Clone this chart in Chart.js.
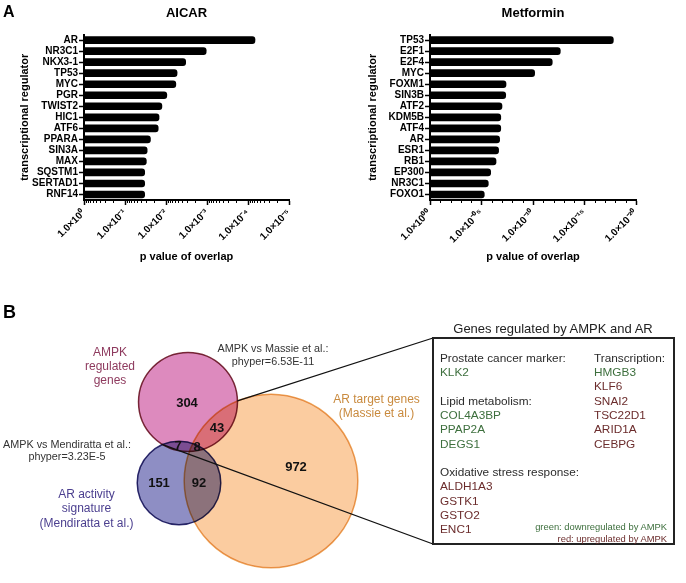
<!DOCTYPE html>
<html>
<head>
<meta charset="utf-8">
<script src="https://cdn.jsdelivr.net/npm/chart.js@4.4.1/dist/chart.umd.min.js"></script>
<style>
  html, body { margin: 0; padding: 0; background: #fff; }
  body {
    position: relative; width: 686px; height: 583px; overflow: hidden;
    font-family: "Liberation Sans", Arial, Helvetica, sans-serif; color: #2b2b2b;
  }
  canvas { position: absolute; display: block; }
  .panel { position: absolute; font-weight: bold; line-height: 1; color: #000; }
  .lbl { position: absolute; white-space: nowrap; text-align: center; transform: translateX(-50%); }
  #genesTitle { position: absolute; left: 553px; top: 321px; font-size: 13px; line-height: 16px;
                transform: translateX(-50%); white-space: nowrap; color: #222; }
  #genesBox { position: absolute; box-sizing: border-box; border: 2px solid #232323; background: #fff; }
  .col { position: absolute; top: 11.8px; font-size: 11.8px; line-height: 14.3px; white-space: nowrap; }
  .dn { color: #3d6f3d; }
  .up { color: #6b2c2c; }
  .key { position: absolute; right: 6px; top: 182px; font-size: 9.4px; line-height: 11.5px; text-align: right; white-space: nowrap; }
</style>
</head>
<body>

<canvas id="aicarChart" width="343" height="280" style="left:0;top:0"></canvas>
<canvas id="metforminChart" width="343" height="280" style="left:343px;top:0"></canvas>
<canvas id="vennChart" width="686" height="293" style="left:0;top:290px"></canvas>

<div class="panel" style="left:3px;top:4px;font-size:16px">A</div>
<div class="panel" style="left:3px;top:303px;font-size:18px">B</div>

<div class="lbl" style="left:110px;top:345px;font-size:12px;line-height:14px;color:#8e3a5e">AMPK<br>regulated<br>genes</div>
<div class="lbl" style="left:273px;top:342px;font-size:10.8px;line-height:13.4px;color:#333">AMPK vs Massie et al.:<br>phyper=6.53E-11</div>
<div class="lbl" style="left:67px;top:437.5px;font-size:10.8px;line-height:12.5px;color:#333">AMPK vs Mendiratta et al.:<br>phyper=3.23E-5</div>
<div class="lbl" style="left:86.5px;top:486.8px;font-size:12px;line-height:14.4px;color:#4b3f8f">AR activity<br>signature<br>(Mendiratta et al.)</div>
<div class="lbl" style="left:376.5px;top:392px;font-size:12px;line-height:14px;color:#c98a3e">AR target genes<br>(Massie et al.)</div>

<div id="genesTitle">Genes regulated by AMPK and AR</div>
<div id="genesBox">
  <div class="col" style="left:6px">
    <div>Prostate cancer marker:</div>
    <div class="dn">KLK2</div>
    <div>&nbsp;</div>
    <div>Lipid metabolism:</div>
    <div class="dn">COL4A3BP</div>
    <div class="dn">PPAP2A</div>
    <div class="dn">DEGS1</div>
    <div>&nbsp;</div>
    <div>Oxidative stress response:</div>
    <div class="up">ALDH1A3</div>
    <div class="up">GSTK1</div>
    <div class="up">GSTO2</div>
    <div class="up">ENC1</div>
  </div>
  <div class="col" style="left:160px">
    <div>Transcription:</div>
    <div class="dn">HMGB3</div>
    <div class="up">KLF6</div>
    <div class="up">SNAI2</div>
    <div class="up">TSC22D1</div>
    <div class="up">ARID1A</div>
    <div class="up">CEBPG</div>
  </div>
  <div class="key">
    <div class="dn">green: downregulated by AMPK</div>
    <div class="up">red: upregulated by AMPK</div>
  </div>
</div>

<script>
'use strict';
/* global Chart */

// ── Data: enrichment of regulator targets (-log10 of p value of overlap) ──
const aicarRegulators = ['AR', 'NR3C1', 'NKX3-1', 'TP53', 'MYC', 'PGR', 'TWIST2', 'HIC1',
                         'ATF6', 'PPARA', 'SIN3A', 'MAX', 'SQSTM1', 'SERTAD1', 'RNF14'];
const aicarNegLog10P = [4.17, 2.98, 2.48, 2.27, 2.24, 2.02, 1.90, 1.83,
                        1.81, 1.62, 1.54, 1.52, 1.48, 1.48, 1.48];
const aicarTickLabels = ['1.0×10⁰', '1.0×10⁻¹', '1.0×10⁻²', '1.0×10⁻³', '1.0×10⁻⁴', '1.0×10⁻⁵'];

const metforminRegulators = ['TP53', 'E2F1', 'E2F4', 'MYC', 'FOXM1', 'SIN3B', 'ATF2', 'KDM5B',
                             'ATF4', 'AR', 'ESR1', 'RB1', 'EP300', 'NR3C1', 'FOXO1'];
const metforminNegLog10P = [17.8, 12.65, 11.87, 10.16, 7.38, 7.35, 6.99, 6.87,
                            6.87, 6.76, 6.66, 6.41, 5.89, 5.66, 5.27];
const metforminTickLabels = ['1.0×10⁰⁰', '1.0×10⁻⁰⁵', '1.0×10⁻¹⁰', '1.0×10⁻¹⁵', '1.0×10⁻²⁰'];

// ── Data: Venn diagram ──
const vennSets = ['AMPK regulated genes', 'AR target genes (Massie et al.)',
                  'AR activity signature (Mendiratta et al.)'];
const vennCounts = [304, 43, 7, 8, 151, 92, 972];
// which sets each count belongs to (index into vennSets)
const vennMembership = [[0], [0, 1], [0, 2], [0, 1, 2], [2], [1, 2], [1]];

// ── Layout (page pixels) ──
const vennCentres = [{ x: 188, y: 402 }, { x: 271, y: 481 }, { x: 179, y: 483 }];
const vennCountPos = [[187, 403], [217, 428], [178, 446], [197, 447], [159, 483], [199, 483], [296, 467]];
const RADIUS_PER_SQRT = 2.6;   // circle area ~ set size
const BOX = { left: 432, top: 337, width: 243, height: 208 };

const FONT = '"Liberation Sans", Arial, Helvetica, sans-serif';
Chart.defaults.font.family = FONT;
Chart.defaults.color = '#000';

// ── Minor ticks on the p value axis ──
const minorTicks = {
  id: 'minorTicks',
  afterDraw(chart, args, opts) {
    const xs = chart.scales.x;
    const ctx = chart.ctx;
    ctx.save();
    ctx.strokeStyle = '#000';
    ctx.lineWidth = 1;
    ctx.beginPath();
    opts.values.forEach(v => {
      const px = Math.round(xs.getPixelForValue(v)) + 0.5;
      ctx.moveTo(px, xs.top);
      ctx.lineTo(px, xs.top + 3);
    });
    ctx.stroke();
    ctx.restore();
  }
};

function logMinors(decades) {
  const out = [];
  for (let k = 0; k < decades; k++) {
    for (let m = 2; m <= 9; m++) out.push(k + 1 - Math.log10(m));
  }
  return out;
}

function barChart(id, cfg) {
  return new Chart(document.getElementById(id), {
    type: 'bar',
    data: {
      labels: cfg.labels,
      datasets: [{
        data: cfg.values,
        backgroundColor: '#000',
        barThickness: 7,
        borderRadius: 3,
      }]
    },
    options: {
      indexAxis: 'y',
      responsive: false,
      animation: false,
      events: [],
      layout: { padding: { top: 6, right: cfg.padRight, left: 0, bottom: 0 } },
      scales: {
        x: {
          type: 'linear', min: 0, max: cfg.max,
          ticks: {
            stepSize: cfg.step, autoSkip: false, maxRotation: 45, minRotation: 45, padding: 2,
            color: '#000', font: { size: 10, weight: 'bold' },
            callback: v => cfg.tickLabels[Math.round(v / cfg.step)],
          },
          grid: { drawOnChartArea: false, tickLength: 5, tickColor: '#000', tickWidth: 1.5 },
          border: { color: '#000', width: 2 },
          title: {
            display: true, text: 'p value of overlap', color: '#000',
            font: { size: 11, weight: 'bold' }, padding: { top: 0, bottom: 16 },
          },
          afterFit: s => { s.height = 80; s.paddingLeft = 0; s.paddingRight = 0; },
        },
        y: {
          ticks: { autoSkip: false, padding: 1, color: '#000', font: { size: 10, weight: 'bold' } },
          grid: { drawOnChartArea: false, offset: false, tickLength: 5, tickColor: '#000', tickWidth: 1.5 },
          border: { color: '#000', width: 2 },
          title: {
            display: true, text: 'transcriptional regulator', color: '#000',
            font: { size: 11, weight: 'bold' }, padding: { top: cfg.yTitleGap, bottom: 0 },
          },
          afterFit: s => { s.width = cfg.yWidth; s.paddingTop = 0; s.paddingBottom = 0; },
        }
      },
      plugins: {
        legend: { display: false },
        tooltip: { enabled: false },
        title: {
          display: true, text: cfg.title, fullSize: false, color: '#000',
          font: { size: 13, weight: 'bold' }, padding: { top: 0, bottom: 13 },
        },
        minorTicks: { values: cfg.minors },
      }
    },
    plugins: [minorTicks]
  });
}

barChart('aicarChart', {
  title: 'AICAR', labels: aicarRegulators, values: aicarNegLog10P,
  max: 5, step: 1, tickLabels: aicarTickLabels, minors: logMinors(5),
  yWidth: 84, padRight: 54, yTitleGap: 18.4,
});

barChart('metforminChart', {
  title: 'Metformin', labels: metforminRegulators, values: metforminNegLog10P,
  max: 20, step: 5, tickLabels: metforminTickLabels,
  minors: Array.from({ length: 20 }, (_, i) => i).filter(i => i % 5 !== 0),
  yWidth: 87, padRight: 50, yTitleGap: 23.4,
});

// ── Venn diagram ──
const setTotals = vennSets.map((_, s) =>
  vennCounts.reduce((sum, n, i) => sum + (vennMembership[i].includes(s) ? n : 0), 0));

function crossings(a, b) {
  const dx = b.x - a.x, dy = b.y - a.y, d = Math.hypot(dx, dy);
  const l = (a.r * a.r - b.r * b.r + d * d) / (2 * d);
  const h = Math.sqrt(Math.max(a.r * a.r - l * l, 0));
  const mx = a.x + l * dx / d, my = a.y + l * dy / d;
  return [{ x: mx + h * dy / d, y: my - h * dx / d }, { x: mx - h * dy / d, y: my + h * dx / d }];
}

const vennOverlay = {
  id: 'vennOverlay',
  beforeDatasetsDraw(chart) {
    chart.ctx.save();
    chart.ctx.globalCompositeOperation = 'multiply';
  },
  afterDatasetsDraw(chart) {
    const ctx = chart.ctx;
    ctx.restore();
    const xs = chart.scales.x, ys = chart.scales.y;
    const circ = chart.data.datasets.map((ds, i) => {
      const el = chart.getDatasetMeta(i).data[0];
      return { x: el.x, y: el.y, r: el.options.radius };
    });

    // connectors to the gene box
    const upper = crossings(circ[0], circ[1]).sort((p, q) => p.y - q.y)[0];
    const left = crossings(circ[0], circ[2]).sort((p, q) => p.x - q.x)[0];
    const bx = xs.getPixelForValue(BOX.left) + 1;
    ctx.save();
    ctx.strokeStyle = '#111';
    ctx.lineWidth = 1.3;
    ctx.beginPath();
    ctx.moveTo(upper.x, upper.y);
    ctx.lineTo(bx, ys.getPixelForValue(BOX.top) + 1);
    ctx.moveTo(left.x, left.y);
    ctx.lineTo(bx, ys.getPixelForValue(BOX.top + BOX.height) - 1);
    ctx.stroke();

    // region counts
    ctx.fillStyle = '#111';
    ctx.font = 'bold 13px ' + FONT;
    ctx.textAlign = 'center';
    ctx.textBaseline = 'middle';
    vennCounts.forEach((n, i) => {
      ctx.fillText(String(n), xs.getPixelForValue(vennCountPos[i][0]), ys.getPixelForValue(vennCountPos[i][1]));
    });
    ctx.restore();
  }
};

const vennFill = ['rgb(221,138,190)', 'rgb(251,204,160)', 'rgb(142,142,196)'];
const vennEdge = ['#7d2d3c', '#eba55a', '#2d2a70'];
const vennOrder = [0, 2, 1];

new Chart(document.getElementById('vennChart'), {
  type: 'bubble',
  data: {
    datasets: vennSets.map((name, i) => ({
      label: name,
      order: vennOrder[i],
      data: [{ x: vennCentres[i].x, y: vennCentres[i].y, r: RADIUS_PER_SQRT * Math.sqrt(setTotals[i]) }],
      backgroundColor: vennFill[i],
      borderColor: vennEdge[i],
      borderWidth: 1.5,
    }))
  },
  options: {
    responsive: false,
    animation: false,
    events: [],
    layout: { padding: 0, autoPadding: false },
    scales: {
      x: { type: 'linear', min: 0, max: 686, display: false },
      y: { type: 'linear', min: 290, max: 583, reverse: true, display: false },
    },
    plugins: { legend: { display: false }, tooltip: { enabled: false } }
  },
  plugins: [vennOverlay]
});

// gene box geometry
const box = document.getElementById('genesBox');
box.style.left = BOX.left + 'px';
box.style.top = BOX.top + 'px';
box.style.width = BOX.width + 'px';
box.style.height = BOX.height + 'px';
</script>
</body>
</html>
